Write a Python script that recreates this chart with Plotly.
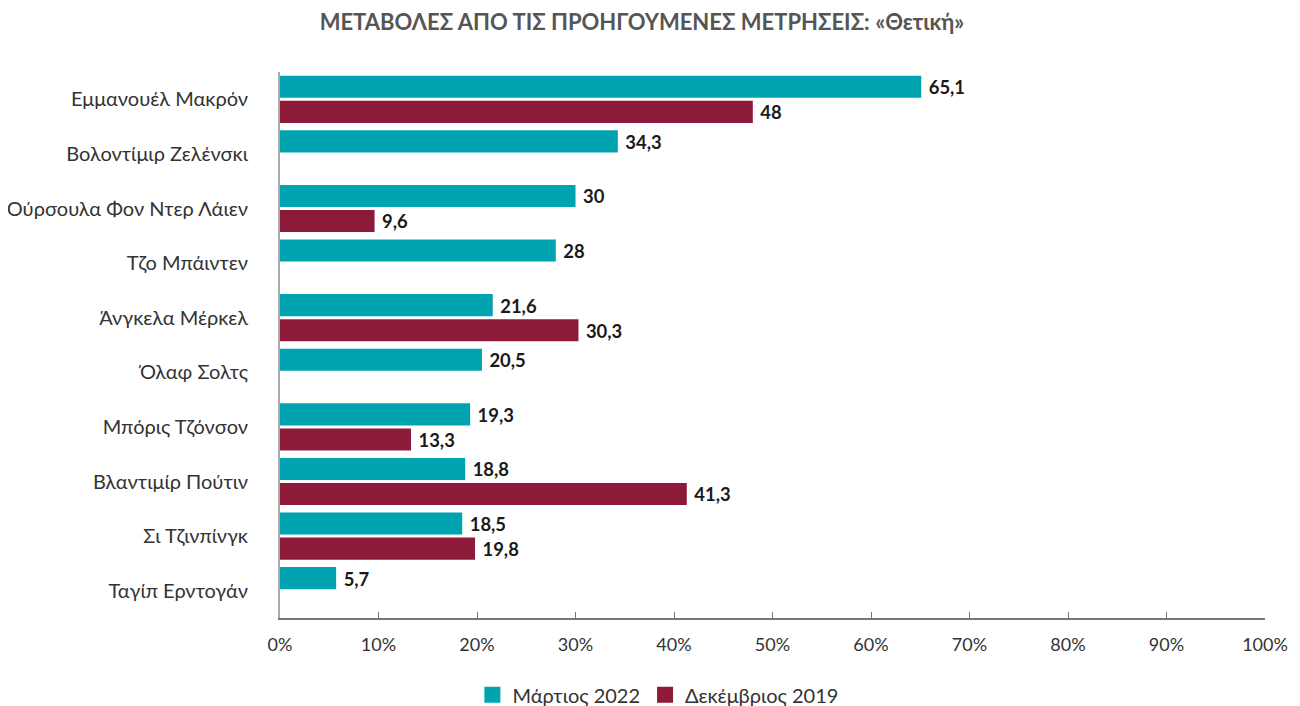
import plotly.graph_objects as go

categories = ["Εμμανουέλ Μακρόν", "Βολοντίμιρ Ζελένσκι", "Ούρσουλα Φον Ντερ Λάιεν",
              "Τζο Μπάιντεν", "Άνγκελα Μέρκελ", "Όλαφ Σολτς", "Μπόρις Τζόνσον",
              "Βλαντιμίρ Πούτιν", "Σι Τζινπίνγκ", "Ταγίπ Ερντογάν"]
march_2022 = [65.1, 34.3, 30, 28, 21.6, 20.5, 19.3, 18.8, 18.5, 5.7]
dec_2019 = [48, None, 9.6, None, 30.3, None, 13.3, 41.3, 19.8, None]
series_names = ["Μάρτιος 2022", "Δεκέμβριος 2019"]
x_ticks = [0, 10, 20, 30, 40, 50, 60, 70, 80, 90, 100]
x_tick_labels = [f"{t}%" for t in x_ticks]

def fmt(v):
    if v is None:
        return ""
    return " " + f"{v:g}".replace(".", ",")

FONT = "Lato"
colors = ["#00A3B0", "#8E1A3A"]
fig = go.Figure()
for name, vals, color in [(series_names[0], march_2022, colors[0]),
                          (series_names[1], dec_2019, colors[1])]:
    fig.add_trace(go.Bar(
        y=categories, x=vals, name=name, orientation="h",
        marker=dict(color=color, line=dict(width=0)),
        text=[fmt(v) for v in vals], textposition="outside",
        textfont=dict(family=FONT, size=20, color="#1a1a1a", weight="bold"),
        cliponaxis=False, showlegend=False,
    ))
# legend entries with larger square swatches
for name, color in zip(series_names, colors):
    fig.add_trace(go.Scatter(
        x=[None], y=[None], mode="markers", name=name,
        marker=dict(symbol="square", size=19, color=color),
    ))

fig.update_layout(
    width=1292, height=698,
    paper_bgcolor="white", plot_bgcolor="white",
    margin=dict(l=272, r=35, t=64, b=88),
    barmode="group", bargap=0.08, bargroupgap=0.12,
    title=dict(text="<b>ΜΕΤΑΒΟΛΕΣ ΑΠΟ ΤΙΣ ΠΡΟΗΓΟΥΜΕΝΕΣ ΜΕΤΡΗΣΕΙΣ: «Θετική»</b>",
               x=0.4907, xanchor="center", y=0.98, yanchor="middle",
               font=dict(family=FONT, size=22, color="#555555")),
    font=dict(family=FONT, color="#333333"),
    legend=dict(orientation="h", xref="container", yref="container",
                x=0.503, xanchor="center", y=0.016, yanchor="middle",
                font=dict(family=FONT, size=20, color="#333333"),
                itemwidth=30, traceorder="normal"),
    xaxis=dict(range=[0, 100], tickvals=x_ticks, ticktext=x_tick_labels,
               showgrid=False, zeroline=False, showline=True, linecolor="#777777",
               linewidth=1.5, ticks="inside", ticklen=6, tickcolor="#777777",
               tickfont=dict(family=FONT, size=18, color="#333333"),
               ticklabelstandoff=10, automargin=False),
    yaxis=dict(autorange="reversed", showgrid=False, showline=True,
               linecolor="#aaaaaa", linewidth=2, ticks="",
               tickfont=dict(family=FONT, size=20, color="#333333"),
               ticklabelstandoff=26, automargin=False),
)
fig.write_html("out.html")
